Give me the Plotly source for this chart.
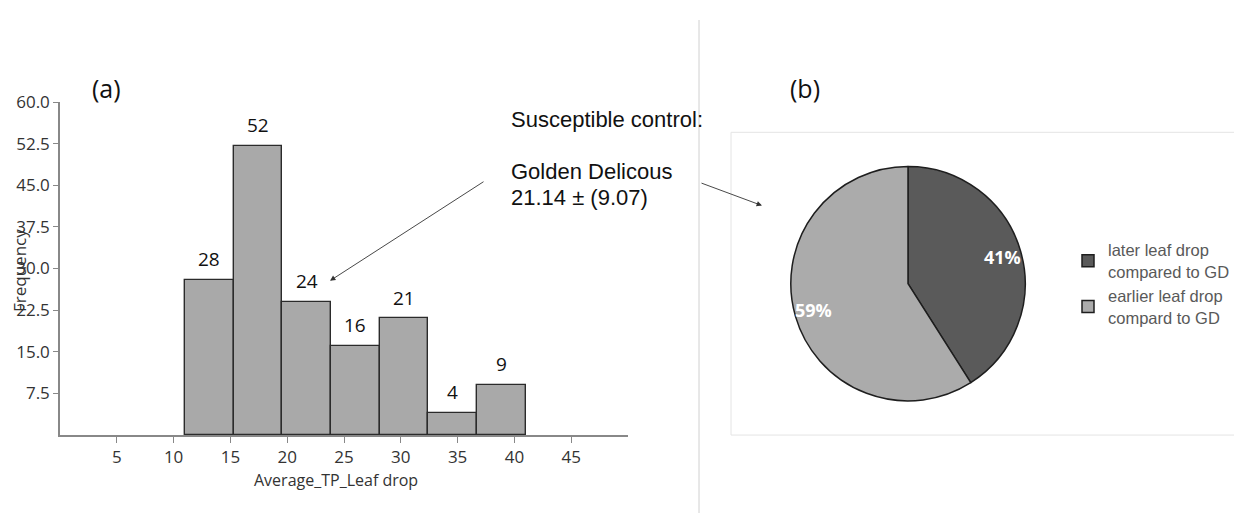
import math
import plotly.graph_objects as go

# ---------------- data ----------------
bin_start = 11.0
bin_end = 41.0
bin_counts = [28, 52, 24, 16, 21, 4, 9]
y_tick_vals = [7.5, 15.0, 22.5, 30.0, 37.5, 45.0, 52.5, 60.0]
x_tick_vals = [5, 10, 15, 20, 25, 30, 35, 40, 45]

pie_labels = ["later leaf drop<br>compared to GD", "earlier leaf drop<br>compard to GD"]
pie_values = [41, 59]
pie_colors = ["#5a5a5a", "#ababab"]

W, H = 1242, 513
OFF = 8  # page body margin
def px(x):
    return (x - OFF) / W
def py(y):
    return 1 - (y - OFF) / H

n_bins = len(bin_counts)
bin_w = (bin_end - bin_start) / n_bins
bin_centers = [bin_start + bin_w * (i + 0.5) for i in range(n_bins)]

fig = go.Figure()

fig.add_trace(go.Bar(
    x=bin_centers, y=bin_counts, width=bin_w,
    marker=dict(color="#a9a9a9", line=dict(color="#2b2b2b", width=1.4)),
    showlegend=False, hoverinfo="skip",
    xaxis="x", yaxis="y",
))

# pie geometry (page pixels)
PIE_CX, PIE_CY, PIE_R = 908, 278, 120
fig.add_trace(go.Pie(
    labels=pie_labels, values=pie_values, sort=False, direction="clockwise", rotation=0,
    marker=dict(colors=pie_colors, line=dict(color="#1e1e1e", width=1.5)),
    textinfo="none",
    domain=dict(x=[px(PIE_CX - PIE_R), px(PIE_CX + PIE_R)],
                y=[py(PIE_CY + PIE_R), py(PIE_CY - PIE_R)]),
    showlegend=True,
))

axis_color = "#888888"
fig.update_layout(
    width=W, height=H,
    margin=dict(l=0, r=0, t=0, b=0),
    paper_bgcolor="white", plot_bgcolor="white",
    font=dict(family="Open Sans", color="#333"),
    bargap=0,
    xaxis=dict(
        domain=[px(60), px(628)], range=[0, 50],
        tickvals=x_tick_vals, ticks="outside", ticklen=6, tickcolor=axis_color,
        showline=True, linecolor=axis_color, linewidth=1.5,
        showgrid=False, zeroline=False,
        tickfont=dict(family="Open Sans", size=17, color="#333"),
        anchor="y",
    ),
    yaxis=dict(
        domain=[py(433), py(92)], range=[0, 60],
        tickvals=y_tick_vals, tickformat=".1f",
        ticks="outside", ticklen=5, tickcolor=axis_color,
        showline=True, linecolor=axis_color, linewidth=1.5,
        showgrid=False, zeroline=False,
        tickfont=dict(family="Open Sans", size=17, color="#333"),
        anchor="x",
    ),
    legend=dict(
        x=px(1068), y=py(278), xanchor="left", yanchor="middle",
        font=dict(family="Liberation Sans", size=16.5, color="#595959"),
        tracegroupgap=6, bgcolor="rgba(0,0,0,0)",
    ),
)

annotations = [
    dict(x=px(106), y=py(78), text="(a)", font=dict(family="Open Sans", size=25, color="#111")),
    dict(x=px(805), y=py(78), text="(b)", font=dict(family="Open Sans", size=25, color="#111")),
    dict(x=px(20), y=py(265), text="Frequency", textangle=-90,
         font=dict(family="Open Sans", size=17, color="#333")),
    dict(x=px(336), y=py(479), text="Average_TP_Leaf drop",
         font=dict(family="Open Sans", size=16, color="#333")),
    dict(x=px(509), y=py(110), text="Susceptible control:", xanchor="left",
         font=dict(family="Liberation Sans", size=22, color="#111")),
    dict(x=px(509), y=py(163), text="Golden Delicous", xanchor="left",
         font=dict(family="Liberation Sans", size=22, color="#111")),
    dict(x=px(509), y=py(190), text="21.14 ± (9.07)", xanchor="left",
         font=dict(family="Liberation Sans", size=22, color="#111")),
]
for a in annotations:
    a.update(xref="paper", yref="paper", showarrow=False)
    a.setdefault("xanchor", "center")
    a["yanchor"] = "middle"

# bar count labels (data coordinates)
for xc, c in zip(bin_centers, bin_counts):
    annotations.append(dict(x=xc, y=c, xref="x", yref="y", text=str(c), showarrow=False,
                            yanchor="bottom", yshift=6,
                            font=dict(family="Open Sans", size=19, color="#111")))

# pie percentage labels at each slice's mid-angle
total = sum(pie_values)
cum = 0
for v in pie_values:
    mid = math.radians((cum + v / 2) / total * 360)
    cum += v
    lx = PIE_CX + 0.82 * PIE_R * math.sin(mid)
    ly = PIE_CY - 0.82 * PIE_R * math.cos(mid)
    annotations.append(dict(x=px(lx), y=py(ly), xref="paper", yref="paper",
                            text=f"{round(100 * v / total)}%", showarrow=False,
                            xanchor="center", yanchor="middle",
                            font=dict(family="Open Sans", size=18, color="white", weight="bold")))

# arrows: (head_x, head_y, tail_x, tail_y) in pixels
arrow_pts = [(330, 275, 485, 175), (762, 198, 700, 175)]
for hx, hy, tx, ty in arrow_pts:
    annotations.append(dict(x=px(hx), y=py(hy), ax=tx - hx, ay=ty - hy,
                            xref="paper", yref="paper", axref="pixel", ayref="pixel", text="",
                            showarrow=True, arrowhead=2, arrowsize=1.2, arrowwidth=0.9,
                            arrowcolor="#333"))

fig.update_layout(annotations=annotations)

fig.add_shape(type="line", xref="paper", yref="paper",
              x0=px(699), x1=px(699), y0=py(8), y1=0,
              line=dict(color="#d0d0d0", width=1))
fig.add_shape(type="rect", xref="paper", yref="paper",
              x0=px(731), x1=px(1241), y0=py(433), y1=py(123),
              line=dict(color="#e4e4e4", width=1))

fig.write_html("out.html")
